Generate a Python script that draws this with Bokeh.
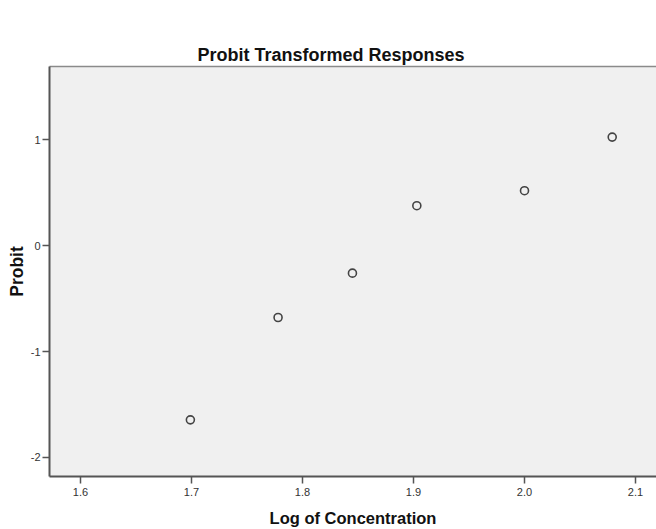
from bokeh.plotting import figure
from bokeh.models import LinearAxis, Range1d, FixedTicker, PrintfTickFormatter
from bokeh.embed import file_html
from bokeh.resources import INLINE

# data
log_conc = [1.699, 1.778, 1.845, 1.903, 2.000, 2.079]
probit = [-1.645, -0.678, -0.259, 0.378, 0.520, 1.026]
x_ticks = [1.6, 1.7, 1.8, 1.9, 2.0, 2.1]
y_ticks = [-2, -1, 0, 1]
title_text = "Probit Transformed Responses"

FONT = "Liberation Sans"

p = figure(width=656, height=529, output_backend="svg", toolbar_location=None,
           x_range=Range1d(1.5721, 2.1189), y_range=Range1d(-2.18, 1.693),
           min_border_left=49, min_border_right=0, min_border_top=66, min_border_bottom=53,
           x_axis_label="Log of Concentration", y_axis_label="Probit")

p.title.text = title_text
p.title.align = "left"
p.title.offset = 148
p.title.vertical_align = "top"
p.title.standoff = 0
p.title.text_font = FONT
p.title.text_font_size = "18px"
p.title.text_font_style = "bold"
p.title.text_color = "#111111"

p.background_fill_color = "#f0f0f0"
p.border_fill_color = "white"
p.outline_line_color = None
p.grid.visible = False

bottom_axis = p.below[0]
left_axis = p.left[0]

# top border line; its invisible tick extent acts as spacing below the title
top_axis = LinearAxis(ticker=FixedTicker(ticks=[]), major_tick_line_color=None,
                      minor_tick_line_color=None, axis_line_color="#8a8a8a",
                      axis_line_width=1.5, major_label_standoff=0,
                      major_tick_out=33, major_tick_in=0)
p.add_layout(top_axis, "above")

for ax in (bottom_axis, left_axis):
    ax.axis_line_color = "#555555"
    ax.axis_line_width = 2
    ax.major_tick_line_color = "#555555"
    ax.major_tick_line_width = 1.5
    ax.major_tick_in = 0
    ax.major_tick_out = 7
    ax.minor_tick_line_color = None
    ax.major_label_text_font = FONT
    ax.major_label_text_font_size = "11px"
    ax.major_label_text_color = "#333333"
    ax.axis_label_text_font = FONT
    ax.axis_label_text_font_style = "bold"
    ax.axis_label_text_color = "#111111"

bottom_axis.axis_label_text_font_size = "16.5px"
left_axis.axis_label_text_font_size = "17.5px"
bottom_axis.ticker = FixedTicker(ticks=x_ticks)
bottom_axis.formatter = PrintfTickFormatter(format="%.1f")
bottom_axis.major_label_standoff = 4
bottom_axis.axis_label_standoff = 10
left_axis.ticker = FixedTicker(ticks=y_ticks)
left_axis.formatter = PrintfTickFormatter(format="%d")
left_axis.major_label_standoff = 2
left_axis.axis_label_standoff = 1

p.scatter(log_conc, probit, marker="circle", size=8, fill_color=None,
          line_color="#444444", line_width=1.6)

open("out.html", "w").write(file_html(p, INLINE))
